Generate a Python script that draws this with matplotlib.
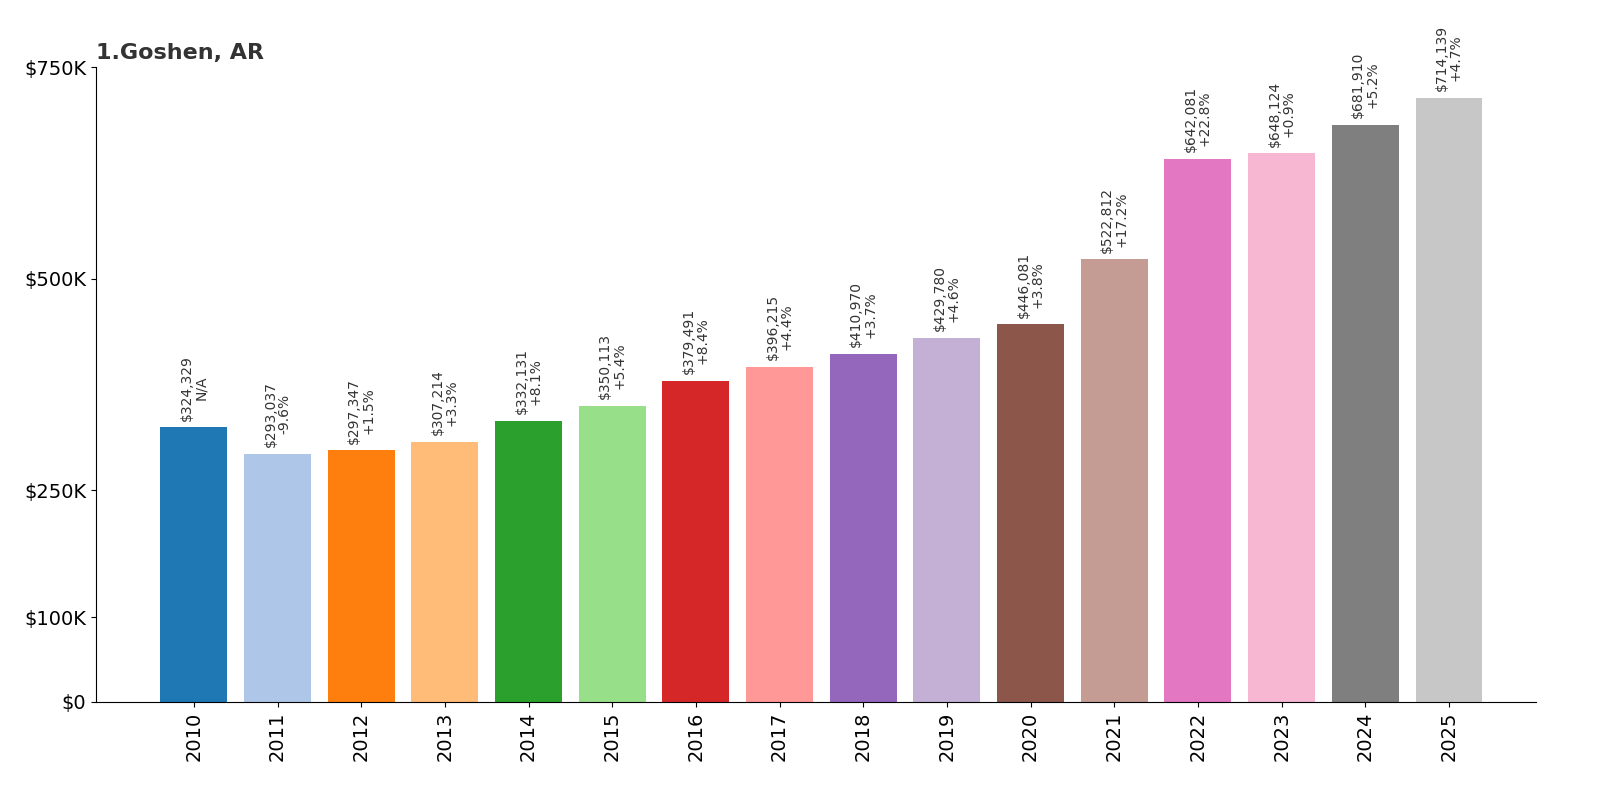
import matplotlib
matplotlib.use("Agg")
import matplotlib.pyplot as plt

years = [str(y) for y in range(2010, 2026)]
values = [324329, 293037, 297347, 307214, 332131, 350113, 379491, 396215,
          410970, 429780, 446081, 522812, 642081, 648124, 681910, 714139]
changes = ["N/A", "-9.6%", "+1.5%", "+3.3%", "+8.1%", "+5.4%", "+8.4%", "+4.4%",
           "+3.7%", "+4.6%", "+3.8%", "+17.2%", "+22.8%", "+0.9%", "+5.2%", "+4.7%"]
yticks = [0, 100000, 250000, 500000, 750000]
yticklabels = ["$0", "$100K", "$250K", "$500K", "$750K"]

colors = plt.get_cmap("tab20").colors
fig = plt.figure(figsize=(16, 8), dpi=100)
ax = fig.add_axes([0.06, 0.1225, 0.9, 0.7935])
x = range(len(years))
ax.bar(x, values, width=0.8, color=[colors[i % 20] for i in x])
for i, v in enumerate(values):
    ax.text(i, v + 8000, f"${v:,}\n{changes[i]}", rotation=90, ha="center",
            va="bottom", fontsize=10, color="#333333", linespacing=1.0)
ax.set_xticks(list(x))
ax.set_xticklabels(years, rotation=90, fontsize=14)
ax.set_yticks(yticks)
ax.set_yticklabels(yticklabels, fontsize=14)
ax.set_ylim(0, 750000)
ax.set_xlim(-1.17, 16.04)
for s in ["top", "right"]:
    ax.spines[s].set_visible(False)
ax.set_title("1.Goshen, AR", loc="left", fontsize=16, fontweight="bold", color="#333333")
fig.savefig("out.png")
